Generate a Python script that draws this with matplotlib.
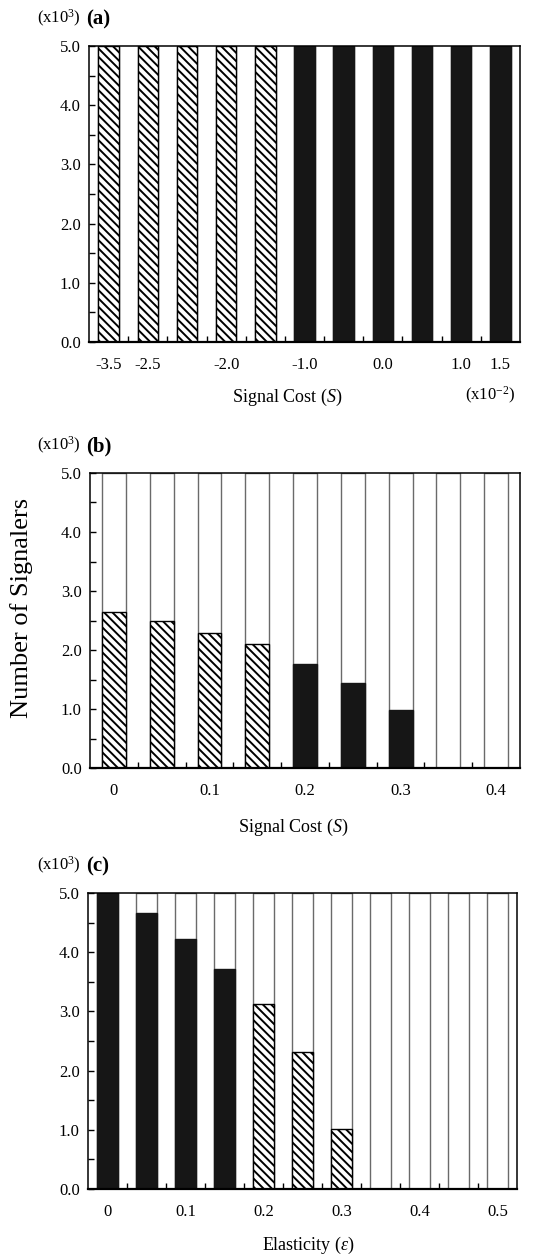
import numpy as np
import matplotlib
matplotlib.use("Agg")
import matplotlib.pyplot as plt
from matplotlib.ticker import MultipleLocator

plt.rcParams['font.family'] = ['Liberation Serif', 'DejaVu Serif']
plt.rcParams['mathtext.fontset'] = 'custom'
plt.rcParams['mathtext.rm'] = 'Liberation Serif'
plt.rcParams['mathtext.it'] = 'Liberation Serif:italic'
plt.rcParams['mathtext.bf'] = 'Liberation Serif:bold'
plt.rcParams['hatch.linewidth'] = 1.4

# panel (a): signal cost (x10^-2), number of signalers (x10^3)
a_values = [5.0, 5.0, 5.0, 5.0, 5.0, 5.0, 5.0, 5.0, 5.0, 5.0, 5.0]
a_kind = ['h', 'h', 'h', 'h', 'h', 'b', 'b', 'b', 'b', 'b', 'b']
a_tick_pos = [0, 1, 3, 5, 7, 9, 10]
a_tick_labels = ['-3.5', '-2.5', '-2.0', '-1.0', '0.0', '1.0', '1.5']

# panel (b): signal cost
b_values = [2.65, 2.49, 2.28, 2.11, 1.76, 1.44, 0.98, 0.0, 0.0]
b_kind = ['h', 'h', 'h', 'h', 'b', 'b', 'b', 'w', 'w']
b_tick_pos = [0, 2, 4, 6, 8]
b_tick_labels = ['0', '0.1', '0.2', '0.3', '0.4']

# panel (c): elasticity
c_values = [5.0, 4.67, 4.22, 3.72, 3.12, 2.32, 1.02, 0.0, 0.0, 0.0, 0.0]
c_kind = ['b', 'b', 'b', 'b', 'h', 'h', 'h', 'w', 'w', 'w', 'w']
c_tick_pos = [0, 2, 4, 6, 8, 10]
c_tick_labels = ['0', '0.1', '0.2', '0.3', '0.4', '0.5']

y_max = 5.0
black = '#161616'
gray = '#6a6a6a'
hatch = '\\' * 4

fig = plt.figure(figsize=(5.33, 12.57), dpi=100)


def panel(rect, values, kind, tick_pos, tick_labels, width):
    ax = fig.add_axes(rect)
    x = np.arange(len(values))
    # full-height outline behind every bar
    ax.bar(x, [y_max] * len(values), width=width, color='white',
           edgecolor=gray, linewidth=1.0, zorder=1)
    for xi, v, k in zip(x, values, kind):
        if v <= 0:
            continue
        if k == 'b':
            ax.bar(xi, v, width=width, color=black, edgecolor=black,
                   linewidth=1.0, zorder=2)
        elif k == 'h':
            ax.bar(xi, v, width=width, color='white', edgecolor='black',
                   hatch=hatch, linewidth=1.0, zorder=2)
    ax.set_xlim(-0.5, len(values) - 0.5)
    ax.set_ylim(0, y_max)
    ax.set_xticks(tick_pos)
    ax.set_xticklabels(tick_labels)
    ax.set_xticks(np.arange(0.5, len(values) - 1, 1.0), minor=True)
    ax.tick_params(axis='x', which='major', length=0, pad=11, labelsize=12)
    ax.tick_params(axis='x', which='minor', direction='in', length=4.5,
                   width=1.0, top=False)
    ax.yaxis.set_major_locator(MultipleLocator(1.0))
    ax.yaxis.set_minor_locator(MultipleLocator(0.5))
    ax.yaxis.set_major_formatter(matplotlib.ticker.FormatStrFormatter('%.1f'))
    ax.tick_params(axis='y', which='both', direction='in', length=4.5,
                   width=1.0, right=False, labelsize=12, pad=6)
    for s in ax.spines.values():
        s.set_linewidth(1.1)
        s.set_zorder(3)
    ax.spines['bottom'].set_linewidth(1.6)
    return ax


ax_a = panel([89 / 533, 1 - 342 / 1257, 431 / 533, 296 / 1257],
             a_values, a_kind, a_tick_pos, a_tick_labels, 0.52)
ax_b = panel([90 / 533, 1 - 768 / 1257, 430 / 533, 295 / 1257],
             b_values, b_kind, b_tick_pos, b_tick_labels, 0.5)
ax_c = panel([88 / 533, 1 - 1189 / 1257, 429 / 533, 296 / 1257],
             c_values, c_kind, c_tick_pos, c_tick_labels, 0.52)

ax_a.text(0.46, -0.186, r'Signal Cost ($S$)', transform=ax_a.transAxes,
          ha='center', va='center', fontsize=13)
ax_a.text(0.93, -0.18, r'(x10$^{-2}$)', transform=ax_a.transAxes,
          ha='center', va='center', fontsize=12)
ax_b.text(0.472, -0.2, r'Signal Cost ($S$)', transform=ax_b.transAxes,
          ha='center', va='center', fontsize=13)
ax_c.text(0.513, -0.189, r'Elasticity ($\varepsilon$)', transform=ax_c.transAxes,
          ha='center', va='center', fontsize=13)

for y_px, tag in [(18, '(a)'), (445, '(b)'), (865, '(c)')]:
    fig.text(37 / 533, 1 - y_px / 1257, r'(x10$^{3}$)', ha='left',
             va='center', fontsize=12)
    fig.text(86 / 533, 1 - (y_px + 1) / 1257, tag, ha='left', va='center',
             fontsize=15, fontweight='bold')

fig.text(22 / 533, 1 - 608 / 1257, 'Number of Signalers', rotation=90,
         ha='center', va='center', fontsize=19)

fig.savefig('out.png', dpi=100)
